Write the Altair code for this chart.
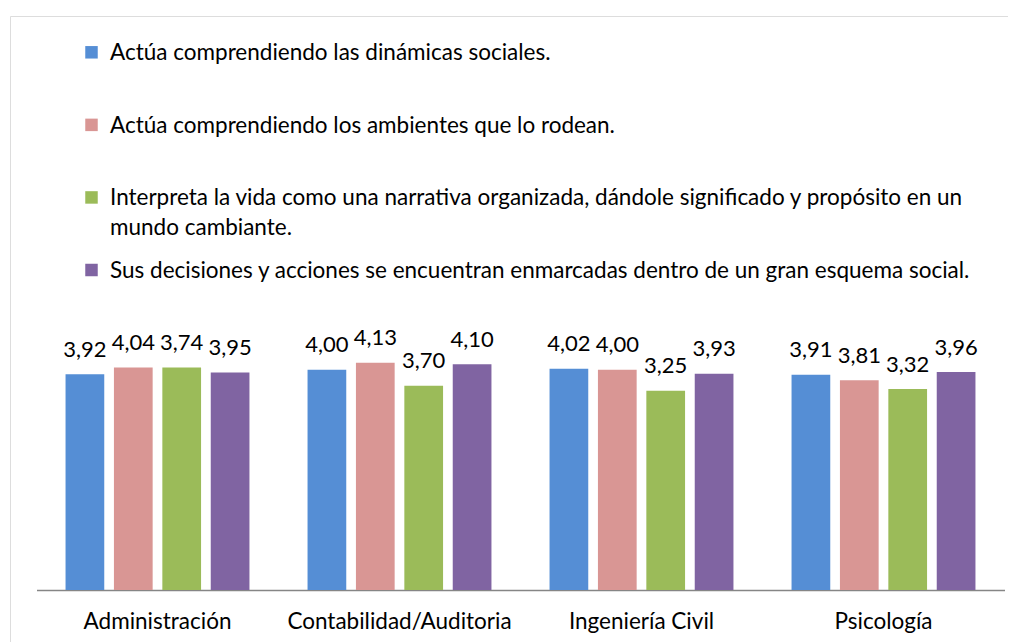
import altair as alt
import pandas as pd

categories = ["Administración", "Contabilidad/Auditoria", "Ingeniería Civil", "Psicología"]
series = [
    "Actúa comprendiendo las dinámicas sociales.",
    "Actúa comprendiendo los ambientes que lo rodean.",
    "Interpreta la vida como una narrativa organizada, dándole significado y propósito en un mundo cambiante.",
    "Sus decisiones y acciones se encuentran enmarcadas dentro de un gran esquema social.",
]
legend_text = [
    "Actúa comprendiendo las dinámicas sociales.",
    "Actúa comprendiendo los ambientes que lo rodean.",
    "Interpreta la vida como una narrativa organizada, dándole significado y propósito en un\nmundo cambiante.",
    "Sus decisiones y acciones se encuentran enmarcadas dentro de un gran esquema social.",
]
colors = ["#558ED5", "#D99694", "#9BBB59", "#8064A2"]

# printed data labels
s1 = [3.92, 4.00, 4.02, 3.91]
s2 = [4.04, 4.13, 4.00, 3.81]
s3 = [3.74, 3.70, 3.25, 3.32]
s4 = [3.95, 4.10, 3.93, 3.96]
# bar heights as drawn in the picture (the green bars do not follow their labels)
s3_drawn = [4.04, 3.71, 3.62, 3.65]

labels_by_series = [s1, s2, s3, s4]
heights_by_series = [s1, s2, s3_drawn, s4]

rows = []
for si, name in enumerate(series):
    for ci, cat in enumerate(categories):
        rows.append({
            "Categoria": cat,
            "Serie": name,
            "Altura": heights_by_series[si][ci],
            "Etiqueta": f"{labels_by_series[si][ci]:.2f}".replace(".", ","),
        })
df = pd.DataFrame(rows)
leg = pd.DataFrame({"Serie": series, "Texto": legend_text})

FONT = "Lato"
FS = 22.5

color = alt.Color("Serie:N", scale=alt.Scale(domain=series, range=colors), legend=None)
x = alt.X("Categoria:N", sort=categories, title=None,
          scale=alt.Scale(range=[26.5, 994.5], paddingInner=0.2, paddingOuter=0.1),
          axis=alt.Axis(labelAngle=0, ticks=False, tickSize=0, labelPadding=20, labelLimit=0,
                        labelFont=FONT, labelFontSize=FS, labelColor="#000000",
                        domainColor="#868686", domainWidth=1.3, grid=False,
                        offset=574 - 650))
xo = alt.XOffset("Serie:N", sort=series, scale=alt.Scale(paddingInner=0.2, paddingOuter=0.1))
y = alt.Y("Altura:Q", axis=None,
          scale=alt.Scale(domain=[0, 4.5], range=[574, 574 - 4.5 * 55.05], zero=True, nice=False))

base = alt.Chart(df)
bars = base.mark_bar().encode(x=x, xOffset=xo, y=y, color=color)
vals = base.mark_text(baseline="alphabetic", dy=-17.5, font=FONT, fontSize=22, color="#000000").encode(
    x=x, xOffset=xo, y=y, text="Etiqueta:N")

ly = alt.Y("Serie:N", sort=series, axis=None,
           scale=alt.Scale(type="point", domain=series, range=[36.3, 254], padding=0))
lsq = alt.Chart(leg).mark_point(shape="square", filled=True, size=156, opacity=1).encode(
    x=alt.value(81.5), y=ly, color=color)
ltx = alt.Chart(leg).mark_text(align="left", baseline="top", dy=-10, lineBreak="\n", lineHeight=29.5,
                              font=FONT, fontSize=FS, color="#000000").encode(
    x=alt.value(100), y=ly, text="Texto:N")

chart = alt.layer(bars, vals, lsq, ltx).resolve_scale(y="independent").properties(
    width=1012, height=650,
    autosize=alt.AutoSizeParams(type="none"),
    padding={"left": 2, "top": 8, "right": -14, "bottom": -24},
).configure_view(stroke="#898989", strokeWidth=2).configure(background="white")

chart.save("out.html", embed_options={"renderer": "svg", "actions": False})
